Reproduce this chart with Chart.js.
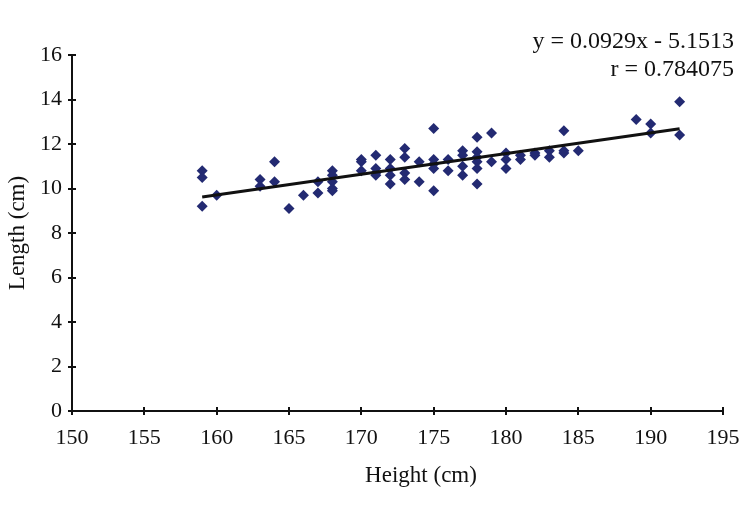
<!DOCTYPE html>
<html>
<head>
<meta charset="utf-8">
<script src="https://cdn.jsdelivr.net/npm/chart.js@4/dist/chart.umd.min.js"></script>
<style>
html,body{margin:0;padding:0;background:#fff;}
#wrap{width:739px;height:516px;position:relative;}
</style>
</head>
<body>
<div id="wrap"><canvas id="c" width="739" height="516"></canvas></div>
<script>
// Data
const heights = [159,159,159,160,163,163,164,164,165,166,167,167,
  168,168,168,168,168,170,170,170,171,171,171,171,172,172,172,172,
  173,173,173,173,174,174,175,175,175,175,175,176,176,177,177,177,177,
  178,178,178,178,178,178,179,179,180,180,180,181,181,182,182,183,183,
  184,184,184,185,189,190,190,192,192];
const lengths = [10.8,10.5,9.2,9.7,10.4,10.1,11.2,10.3,9.1,9.7,10.3,9.8,
  10.8,10.6,10.3,10.0,9.9,11.3,11.2,10.8,11.5,10.9,10.7,10.6,11.3,10.9,10.6,10.2,
  11.8,11.4,10.7,10.4,11.2,10.3,12.7,11.3,11.1,10.9,9.9,11.3,10.8,11.7,11.5,11.0,10.6,
  12.3,11.65,11.4,11.2,10.9,10.2,12.5,11.2,11.6,11.3,10.9,11.5,11.3,11.6,11.5,11.7,11.4,
  12.6,11.7,11.6,11.7,13.1,12.9,12.5,13.9,12.4];
const slope = 0.0929;
const intercept = -5.1513;
const equationText = "y = 0.0929x - 5.1513";
const rText = "r = 0.784075";
const xTitle = "Height (cm)";
const yTitle = "Length (cm)";

const points = heights.map((h, i) => ({x: h, y: lengths[i]}));
const xMin = Math.min(...heights), xMax = Math.max(...heights);
const trend = [xMin, xMax].map(x => ({x: x, y: slope * x + intercept}));

const FONT = "'Liberation Serif', 'Times New Roman', serif";

const annot = {
  id: 'annot',
  afterDraw(chart) {
    const ctx = chart.ctx;
    ctx.save();
    ctx.fillStyle = '#111';
    ctx.font = '24px ' + FONT;
    ctx.textAlign = 'right';
    ctx.textBaseline = 'middle';
    ctx.fillText(equationText, 734, 42);
    ctx.fillText(rText, 734, 70);
    // x-axis title (placed as in the reference, slightly right of centre)
    ctx.font = '23px ' + FONT;
    ctx.textAlign = 'center';
    ctx.fillText(xTitle, 421, 476);
    // inward half of the tick marks (ticks cross the axis line)
    ctx.strokeStyle = '#111';
    ctx.lineWidth = 2;
    const xs = chart.scales.x, ys = chart.scales.y;
    ctx.beginPath();
    xs.ticks.forEach(t => {
      const px = Math.round(xs.getPixelForValue(t.value));
      ctx.moveTo(px, xs.top);
      ctx.lineTo(px, xs.top - 4);
    });
    ys.ticks.forEach(t => {
      const py = Math.round(ys.getPixelForValue(t.value));
      ctx.moveTo(ys.right, py);
      ctx.lineTo(ys.right + 4, py);
    });
    ctx.stroke();
    ctx.restore();
  }
};

new Chart(document.getElementById('c'), {
  type: 'scatter',
  data: {
    datasets: [
      {
        data: points,
        pointStyle: 'rectRot',
        pointRadius: 5.5,
        pointHoverRadius: 5.5,
        backgroundColor: '#232A72',
        borderColor: '#232A72',
        borderWidth: 0,
        order: 1
      },
      {
        type: 'line',
        data: trend,
        borderColor: '#111',
        borderWidth: 3,
        pointRadius: 0,
        fill: false,
        order: 0
      }
    ]
  },
  plugins: [annot],
  options: {
    responsive: false,
    animation: false,
    events: [],
    layout: {padding: {left: 4, right: 16, top: 55, bottom: 0}},
    plugins: {legend: {display: false}, tooltip: {enabled: false}},
    scales: {
      x: {
        type: 'linear',
        min: 150, max: 195,
        ticks: {stepSize: 5, color: '#111', font: {family: FONT, size: 22}, padding: 10},
        grid: {display: true, drawOnChartArea: false, drawTicks: true, tickLength: 4, color: '#111', lineWidth: 2},
        border: {display: true, color: '#111', width: 2},
        title: {display: false},
        afterFit(s) { s.height = 105; s.paddingRight = 0; s.paddingLeft = 0; }
      },
      y: {
        min: 0, max: 16,
        ticks: {stepSize: 2, color: '#111', font: {family: FONT, size: 22}, padding: 6},
        grid: {display: true, drawOnChartArea: false, drawTicks: true, tickLength: 4, color: '#111', lineWidth: 2},
        border: {display: true, color: '#111', width: 2},
        title: {display: true, text: yTitle, color: '#111', font: {family: FONT, size: 23}, padding: {top: 0, bottom: 4}},
        afterFit(s) { s.width = 68; s.paddingTop = 0; s.paddingBottom = 0; }
      }
    }
  }
});
</script>
</body>
</html>
